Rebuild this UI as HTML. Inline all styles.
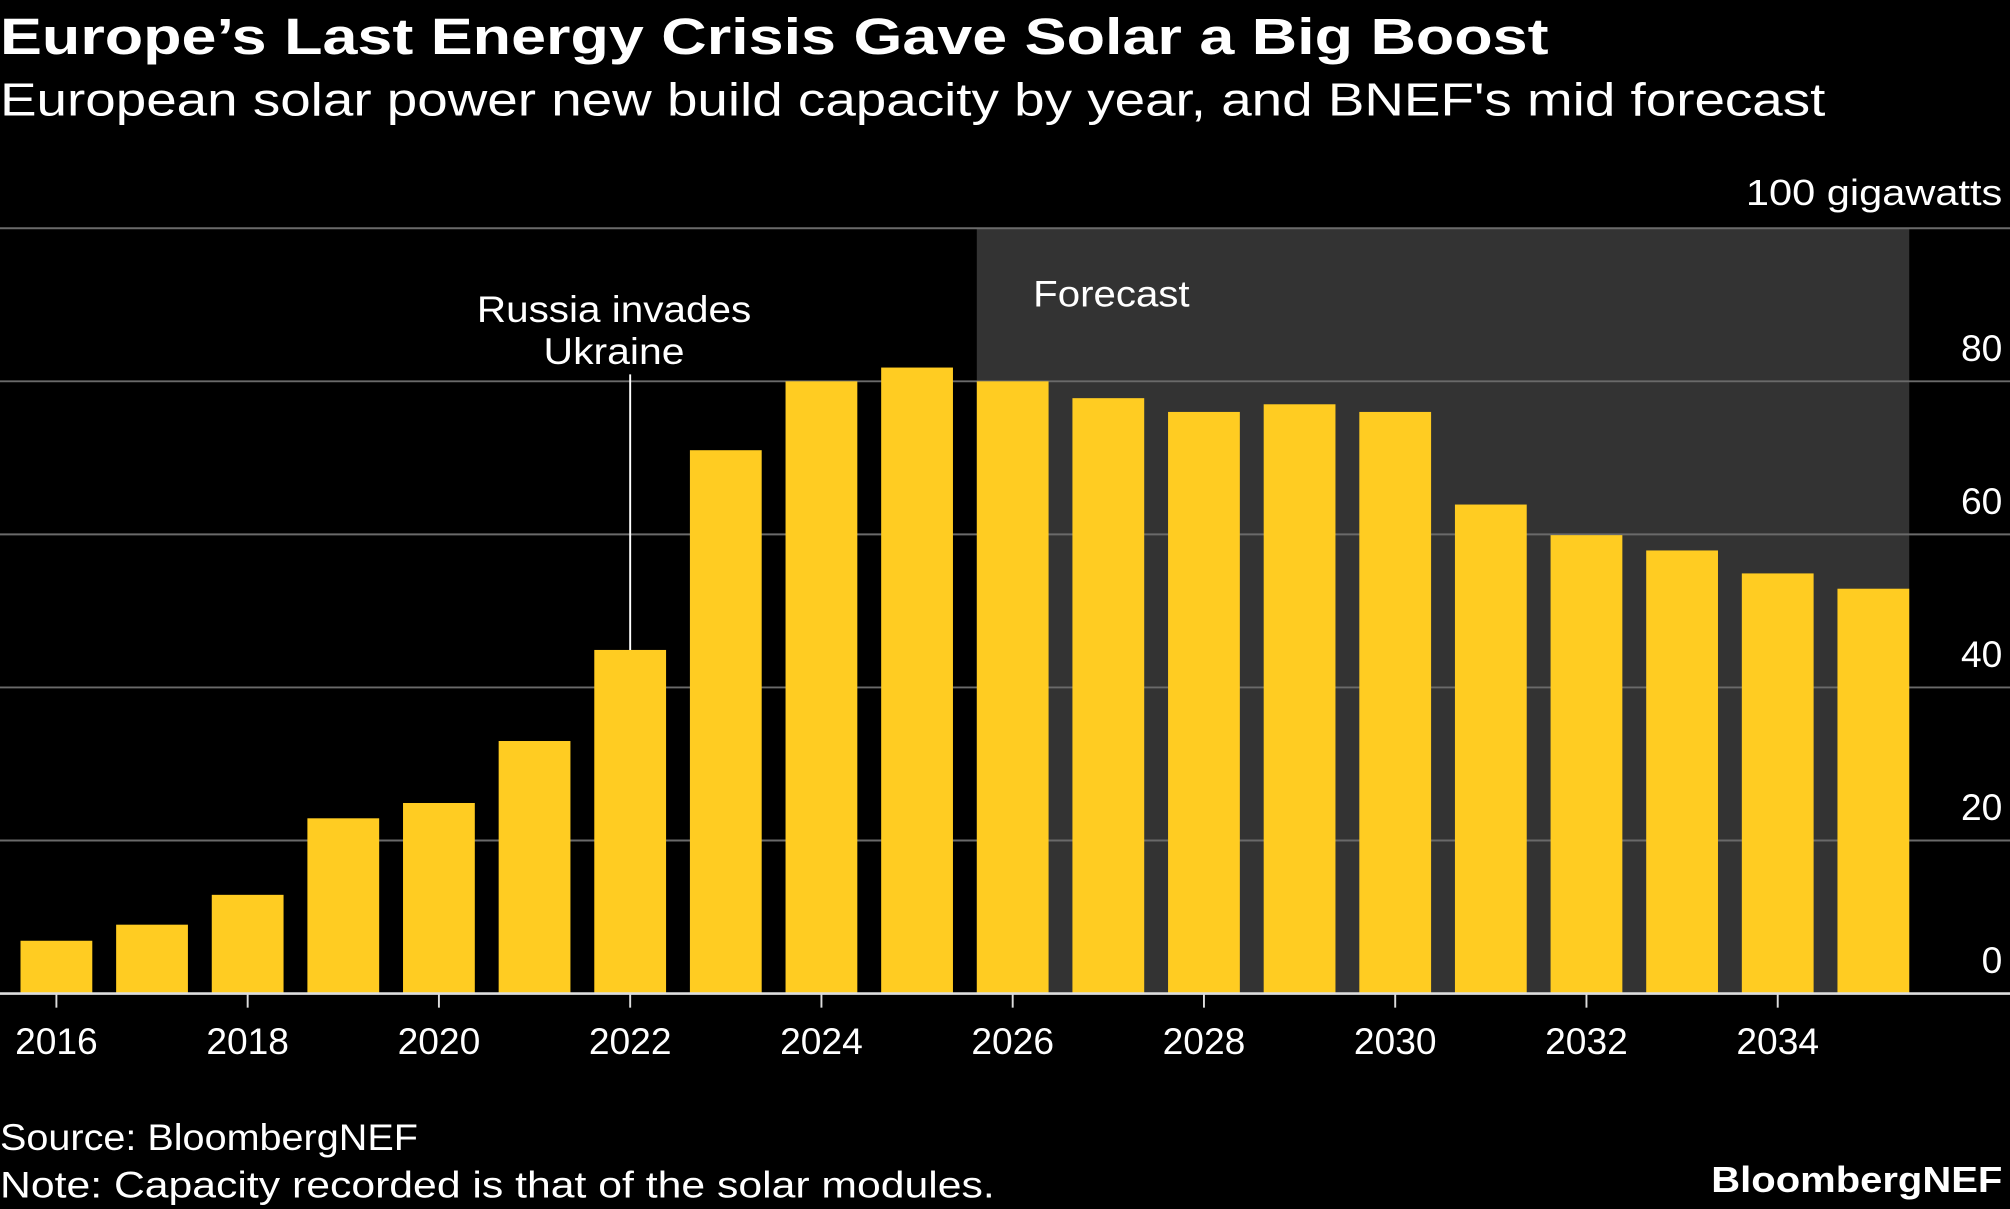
<!DOCTYPE html>
<html><head><meta charset="utf-8">
<style>
html,body{margin:0;padding:0;background:#000;width:2010px;height:1209px;overflow:hidden}
svg{display:block}
text{font-family:"Liberation Sans","DejaVu Sans",sans-serif;fill:#fff}
</style></head>
<body>
<svg id="chart" width="2010" height="1209" viewBox="0 0 1568 943" xmlns="http://www.w3.org/2000/svg">
<rect width="1568" height="943" fill="#000"/>
<text x="0" y="42" font-size="40" font-weight="bold" textLength="1208" lengthAdjust="spacingAndGlyphs">Europe’s Last Energy Crisis Gave Solar a Big Boost</text>
<text x="0" y="90" font-size="36" textLength="1424" lengthAdjust="spacingAndGlyphs">European solar power new build capacity by year, and BNEF's mid forecast</text>
<rect id="fc" fill="#333"/>
<text x="806" y="239" font-size="29" textLength="122" lengthAdjust="spacingAndGlyphs">Forecast</text>
<g id="grid"></g>
<g id="bars"></g>
<g id="xaxis"></g>
<line id="ann" stroke="#fff" stroke-width="1.5"/>
<text x="372" y="251" font-size="29" textLength="214" lengthAdjust="spacingAndGlyphs">Russia invades</text>
<text x="424" y="284" font-size="29" textLength="110" lengthAdjust="spacingAndGlyphs">Ukraine</text>
<text x="1362" y="160" font-size="28" textLength="200" lengthAdjust="spacingAndGlyphs">100 gigawatts</text>
<text x="0" y="897" font-size="29" textLength="326" lengthAdjust="spacingAndGlyphs">Source: BloombergNEF</text>
<text x="0" y="934" font-size="29" textLength="776" lengthAdjust="spacingAndGlyphs">Note: Capacity recorded is that of the solar modules.</text>
<text x="1335" y="930" font-size="28" font-weight="bold" textLength="227" lengthAdjust="spacingAndGlyphs">BloombergNEF</text>
</svg>
<script>
const years=[2016,2017,2018,2019,2020,2021,2022,2023,2024,2025,2026,2027,2028,2029,2030,2031,2032,2033,2034,2035];
const capacity=[6.9,9,12.9,22.9,24.9,33,44.9,71,80,81.8,80,77.8,76,77,76,63.9,59.9,57.9,54.9,52.9];
const yTicks=[0,20,40,60,80];
const xTickYears=[2016,2018,2020,2022,2024,2026,2028,2030,2032,2034];
const forecastFirst=2026, forecastLast=2035;
const eventYear=2022;
const NS="http://www.w3.org/2000/svg";
const y=v=>775-v*5.97;
const x=yr=>44+(yr-2016)*74.6;
const bw=56;
function mk(tag,attrs,parent){const e=document.createElementNS(NS,tag);for(const k in attrs)e.setAttribute(k,attrs[k]);parent.appendChild(e);return e;}
const fc=document.getElementById('fc');
fc.setAttribute('x',x(forecastFirst)-bw/2);fc.setAttribute('y',y(100));
fc.setAttribute('width',x(forecastLast)-x(forecastFirst)+bw);fc.setAttribute('height',y(0)-y(100));
const grid=document.getElementById('grid');
[...yTicks,100].forEach(t=>{
  if(t===0)return;
  const l=mk('line',{x1:0,x2:1568,y1:y(t),y2:y(t),stroke:'#6a6a6a','stroke-width':1.5},grid);
  
  
});
yTicks.forEach(t=>{
  const tx=mk('text',{x:1562,y:y(t)-16,'font-size':29,'text-anchor':'end'},grid);
  tx.textContent=t;
  
  
});
const bars=document.getElementById('bars');
years.forEach((yr,i)=>{
  const r=mk('rect',{x:x(yr)-bw/2,y:y(capacity[i]),width:bw,height:y(0)-y(capacity[i]),fill:'#ffcc22'},bars);
  
  
});
const xa=document.getElementById('xaxis');
const bl=mk('line',{x1:0,x2:1568,y1:775,y2:775,stroke:'#ddd','stroke-width':2},xa);


xTickYears.forEach(yr=>{
  const tk=mk('line',{x1:x(yr),x2:x(yr),y1:775,y2:786,stroke:'#ddd','stroke-width':1.5},xa);
  
  
  const t=mk('text',{x:x(yr),y:822,'font-size':29,'text-anchor':'middle'},xa);
  t.textContent=yr;
  
  
});
const ann=document.getElementById('ann');
const ei=years.indexOf(eventYear);
ann.setAttribute('x1',x(eventYear));ann.setAttribute('x2',x(eventYear));
ann.setAttribute('y1',292);ann.setAttribute('y2',y(capacity[ei]));
</script>
</body></html>
